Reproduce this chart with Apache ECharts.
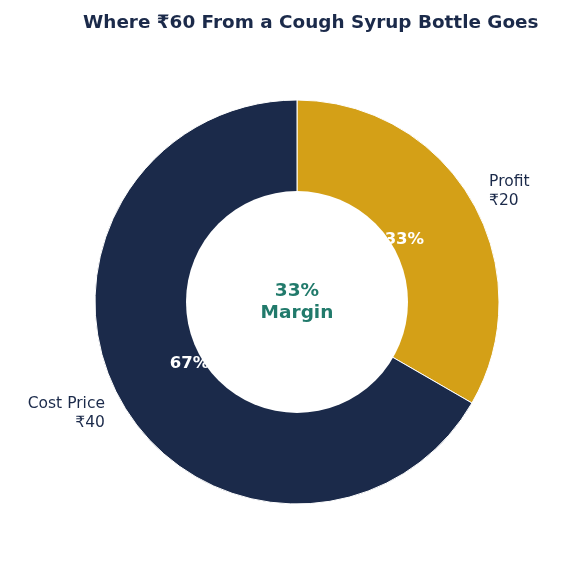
<!DOCTYPE html>
<html>
<head>
<meta charset="utf-8">
<script src="https://cdn.jsdelivr.net/npm/echarts@6/dist/echarts.min.js"></script>
<style>
  html, body { margin: 0; padding: 0; background: #fff; }
  #chart { width: 570px; height: 570px; }
</style>
</head>
<body>
<div id="chart"></div>
<script>
  var categories = ['Profit', 'Cost Price'];
  var values = [20, 40];
  var colors = ['#D4A017', '#1B2A4A'];
  var centerText = ['33%', 'Margin'];

  var total = values.reduce(function (a, b) { return a + b; }, 0);
  var pieData = categories.map(function (name, i) {
    return { name: name, value: values[i], itemStyle: { color: colors[i] } };
  });

  var chartDom = document.getElementById('chart');
  var myChart = echarts.init(chartDom);
  var font = 'DejaVu Sans';
  var cx = 297, cy = 302;

  var option = {
    backgroundColor: '#fff',
    title: {
      text: 'Where ₹60 From a Cough Syrup Bottle Goes',
      left: 83,
      top: 14,
      padding: 0,
      textStyle: { fontFamily: font, fontSize: 18.4, fontWeight: 'bold', color: '#1B2A4A' }
    },
    graphic: [
      {
        type: 'circle',
        z: 100,
        shape: { cx: cx, cy: cy, r: 111 },
        style: { fill: '#fff' }
      },
      {
        type: 'text',
        z: 101,
        x: cx,
        y: cy,
        style: {
          text: centerText.join('\n'),
          fontFamily: font,
          fontSize: 18.5,
          fontWeight: 'bold',
          lineHeight: 22,
          fill: '#217A6B',
          align: 'center',
          verticalAlign: 'middle'
        }
      }
    ],
    series: [
      {
        type: 'pie',
        center: [cx, cy],
        radius: [40, 202],
        startAngle: 90,
        clockwise: true,
        avoidLabelOverlap: false,
        itemStyle: { borderColor: '#fff', borderWidth: 1 },
        label: {
          show: true,
          position: 'inside',
          fontFamily: font,
          fontSize: 16.5,
          fontWeight: 'bold',
          color: '#fff',
          formatter: function (p) {
            return Math.round(p.value / total * 100) + '%';
          }
        },
        labelLine: { show: false },
        emphasis: { disabled: true },
        data: pieData
      },
      {
        type: 'pie',
        center: [cx, cy],
        radius: [0, 202],
        startAngle: 90,
        clockwise: true,
        avoidLabelOverlap: false,
        silent: true,
        itemStyle: { color: 'rgba(0,0,0,0)' },
        label: {
          show: true,
          position: 'outside',
          fontFamily: font,
          fontSize: 15.5,
          lineHeight: 19,
          color: '#1B2A4A',
          formatter: function (p) {
            return p.name + '\n₹' + p.value;
          }
        },
        labelLine: { show: false, length: 14, length2: 0 },
        // push the labels a little further from the horizontal
        labelLayout: function (params) {
          var mid = params.labelRect.y + params.labelRect.height / 2;
          return { dy: mid < cy ? -3 : 3 };
        },
        data: categories.map(function (name, i) { return { name: name, value: values[i] }; })
      }
    ]
  };

  option && myChart.setOption(option);
</script>
</body>
</html>
